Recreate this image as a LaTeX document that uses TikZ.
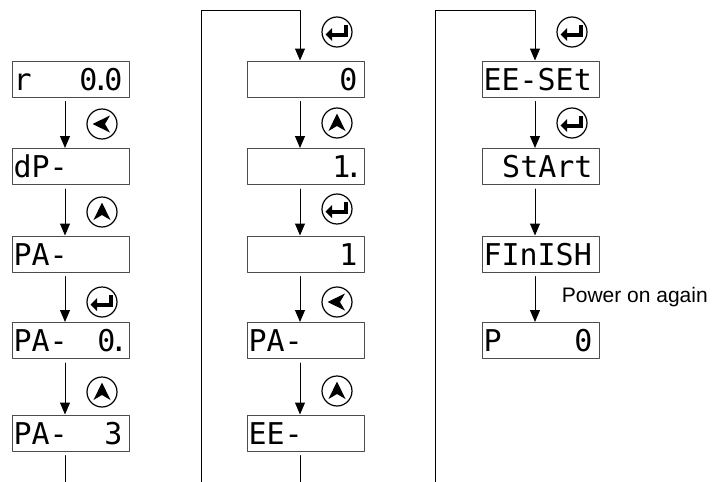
\documentclass[tikz,border=0pt]{standalone}
\usepackage{fontspec}
\setmainfont{Liberation Sans}
\newfontfamily\segfont{DejaVu Sans Mono}
\usetikzlibrary{arrows.meta,calc,positioning}
\newcommand\seg[2]{\makebox[114pt]{#1\hfill#2\hspace{5pt}}}
\newcommand\segdot{\makebox[7pt]{.}}
\tikzset{
  disp/.style={draw=black!70, line width=1pt, minimum width=117pt, minimum height=36pt,
    inner sep=0pt, text height=22pt, text depth=0pt, font=\segfont\fontsize{30}{30}\selectfont},
  key/.style={circle, draw, line width=1.2pt, minimum size=30pt, inner sep=0pt},
  keyleft/.style={key, path picture={
      \fill[shift={(path picture bounding box.center)}] (-9.5,0) -- (8,8.5) -- (3,0) -- (8,-8.5) -- cycle;}},
  keyup/.style={key, path picture={
      \fill[shift={(path picture bounding box.center)}] (0,9.5) -- (8.5,-8) -- (0,-3) -- (-8.5,-8) -- cycle;}},
  keyenter/.style={key, path picture={
      \fill[shift={(path picture bounding box.center)}] (-11.5,-2.5) -- (-5,4) -- (-5,-9) -- cycle;
      \draw[shift={(path picture bounding box.center)}, line width=4pt, line cap=butt, line join=miter]
        (9,7) -- (9,-2.5) -- (-6,-2.5);}},
  flow/.style={line width=1pt, -{Triangle[length=12pt,width=10pt]}},
  link/.style={line width=1pt},
  every picture/.style={line cap=round, line join=round}
}

\begin{document}
\begin{tikzpicture}[x=1pt,y=1pt]
    \useasboundingbox (0,0) rectangle (713,-482);

    % display windows
    \foreach \name/\x/\y/\lft/\rgt in {
      r0/70.5/79/r/{0\segdot 0},
      dp/70.5/166.5/dP-/{},
      pa/70.5/254/PA-/{},
      pa0/70.5/340.5/PA-/{0\segdot},
      pa3/70.5/433/PA-/3,
      v0/305.5/79/{}/0,
      v1d/305.5/166.5/{}/{1\segdot},
      v1/305.5/254/{}/1,
      pa2/305.5/340.5/PA-/{},
      ee/305.5/433/EE-/{},
      eeset/540.5/79/EE-SEt/{},
      start/540.5/166.5/{}/StArt,
      finish/540.5/254/FInISH/{},
      p0/540.5/340.5/P/0}
    {
      \node[disp] (\name) at (\x,-\y) {\seg{\lft}{\rgt}};
    }

    % keys
    \foreach \kind/\name/\x/\y in {
      left/k1/102/124, up/k2/102/212, enter/k3/102/302, up/k4/102/392,
      enter/k5/337/32, up/k6/337/123, enter/k7/337/209, left/k8/337/302, up/k9/337/391,
      enter/k10/572/32, enter/k11/572/123}
    {
      \node[key\kind] (\name) at (\x,-\y) {};
    }

    \foreach \a/\b in {r0/dp, dp/pa, pa/pa0, pa0/pa3,
      v0/v1d, v1d/v1, v1/pa2, pa2/ee,
      eeset/start, start/finish}
    {
      \draw[flow, shorten <=4pt] ([xshift=-5.5pt]\a.south) -- ([xshift=-5.5pt]\b.north);
    }

    \draw[flow, shorten <=4pt] ([xshift=-5.5pt]finish.south) -- ([xshift=-5.5pt]p0.north)
      node[midway, right=23pt] (again) {\fontsize{21}{21}\selectfont Power on again};

    % page links
    \coordinate (e1) at (65,-482);
    \coordinate (s2) at (201,-482);
    \coordinate (t2) at (201,-10);
    \coordinate (e2) at (300,-482);
    \coordinate (s3) at (435,-482);
    \coordinate (t3) at (435,-10);

    \draw[link, shorten <=4pt] ([xshift=-5.5pt]pa3.south) -- (e1);
    \draw[flow] (s2) -- (t2) -| ([xshift=-5.5pt]v0.north);
    \draw[link, shorten <=4pt] ([xshift=-5.5pt]ee.south) -- (e2);
    \draw[flow] (s3) -- (t3) -| ([xshift=-5.5pt]eeset.north);
  \end{tikzpicture}
\end{document}
